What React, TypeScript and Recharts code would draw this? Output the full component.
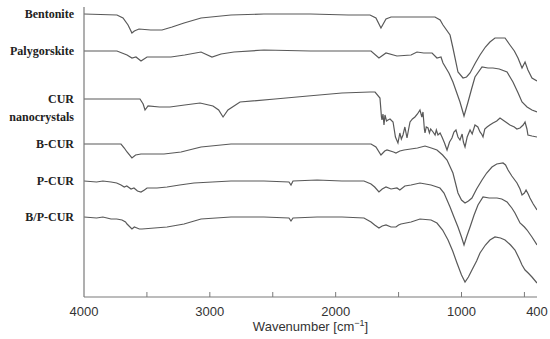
import React from 'react';
import { LineChart, Line, XAxis, YAxis, Label } from 'recharts';

// FTIR spectra: [wavenumber (cm^-1), transmittance (a.u., offset-stacked)]
const bentonite: [number, number][] = [
  [4000, 283], [3738, 282], [3690, 279], [3650, 272], [3619, 264], [3600, 266], [3563, 268], [3470, 267], [3380, 267],
  [3300, 270], [3205, 274], [3070, 279], [2832, 282], [2570, 283], [2200, 283], [1900, 282], [1727, 282],
  [1680, 279], [1640, 269], [1600, 278], [1560, 280], [1489, 280], [1300, 280], [1211, 280], [1170, 277],
  [1147, 272], [1091, 262], [1068, 249], [1028, 225], [988, 219], [960, 220], [932, 224], [890, 234],
  [853, 242], [810, 250], [774, 255], [734, 259], [690, 259], [654, 259], [615, 252], [580, 246],
  [551, 239], [519, 229], [495, 235], [472, 227], [440, 219], [400, 216],
];

const palygorskite: [number, number][] = [
  [4000, 246], [3738, 246], [3658, 242], [3619, 239], [3587, 240], [3547, 236], [3499, 240], [3400, 240],
  [3309, 240], [3200, 242], [3070, 245], [2983, 240], [2911, 243], [2808, 245], [2570, 247], [2200, 246],
  [1900, 246], [1719, 246], [1656, 239], [1600, 244], [1513, 241], [1401, 242], [1354, 245], [1300, 244],
  [1234, 244], [1195, 239], [1163, 240], [1147, 234], [1100, 224], [1068, 215], [1012, 195], [980, 181],
  [948, 195], [920, 208], [893, 220], [837, 230], [790, 229], [750, 229], [700, 228], [638, 225],
  [591, 215], [550, 204], [519, 195], [479, 190], [440, 187], [400, 185],
];

const curNanocrystals: [number, number][] = [
  [4000, 198], [3700, 198], [3555, 198], [3530, 193], [3515, 187], [3491, 191], [3400, 190], [3317, 190],
  [3200, 192], [3078, 194], [2975, 191], [2930, 187], [2895, 180], [2856, 187], [2760, 195], [2482, 198],
  [2220, 201], [1950, 204], [1727, 205], [1687, 205], [1648, 199], [1636, 180], [1632, 177], [1624, 183],
  [1616, 172], [1608, 182], [1596, 176], [1584, 177], [1568, 178], [1544, 175], [1525, 160], [1505, 154],
  [1490, 164], [1478, 158], [1465, 162], [1450, 170], [1433, 159], [1420, 168], [1409, 175], [1390, 178],
  [1370, 180], [1350, 183], [1330, 187], [1315, 180], [1306, 185], [1295, 168], [1290, 164], [1280, 170],
  [1266, 169], [1255, 164], [1245, 168], [1226, 165], [1210, 162], [1200, 167], [1187, 162], [1170, 164],
  [1155, 160], [1135, 154], [1115, 147], [1095, 155], [1076, 159], [1060, 165], [1044, 167], [1028, 160],
  [1012, 157], [995, 163], [985, 155], [972, 150], [955, 160], [932, 167], [915, 163], [893, 172],
  [870, 170], [853, 165], [840, 163], [829, 160], [815, 168], [797, 170], [775, 172], [750, 174],
  [720, 176], [694, 179], [660, 176], [615, 172], [580, 170], [560, 168], [535, 169], [510, 172],
  [495, 175], [480, 168], [472, 162], [440, 161], [400, 160],
];

const bCur: [number, number][] = [
  [4000, 153], [3706, 153], [3680, 149], [3658, 145], [3619, 139], [3590, 142], [3547, 143], [3450, 143],
  [3364, 143], [3229, 145], [3070, 150], [2832, 153], [2570, 153], [2200, 153], [1900, 153], [1719, 153],
  [1680, 150], [1640, 142], [1610, 146], [1592, 147], [1540, 145], [1521, 144], [1490, 146], [1457, 147],
  [1350, 149], [1290, 151], [1240, 149], [1195, 147], [1150, 142], [1115, 137], [1068, 124], [1028, 104],
  [1000, 97], [972, 94], [945, 96], [917, 99], [880, 108], [837, 117], [800, 124], [758, 130],
  [720, 133], [670, 134], [650, 132], [630, 127], [600, 121], [559, 114], [535, 108], [519, 102],
  [500, 104], [487, 107], [470, 103], [456, 99], [430, 93], [400, 87],
];

const pCur: [number, number][] = [
  [4000, 116], [3900, 115], [3850, 116], [3785, 115], [3740, 114], [3706, 112], [3680, 110], [3660, 111],
  [3626, 108], [3603, 109], [3575, 106], [3547, 105], [3520, 107], [3499, 109], [3420, 109], [3340, 110],
  [3240, 112], [3126, 114], [2980, 115], [2832, 116], [2570, 116], [2371, 115], [2355, 112], [2339, 116],
  [2148, 117], [1950, 116], [1775, 116], [1719, 113], [1690, 110], [1656, 105], [1630, 108], [1600, 110],
  [1560, 108], [1513, 109], [1490, 107], [1450, 111], [1401, 112], [1330, 114], [1242, 112], [1171, 109],
  [1139, 104], [1091, 90], [1060, 80], [1028, 70], [1000, 60], [980, 52], [960, 60], [932, 70],
  [900, 82], [869, 92], [829, 100], [780, 99], [718, 99], [680, 98], [638, 95], [600, 89],
  [575, 84], [535, 74], [500, 70], [479, 67], [440, 60], [400, 52],
];

const bpCur: [number, number][] = [
  [4000, 80], [3900, 79], [3850, 80], [3785, 78], [3740, 78], [3698, 77], [3670, 75], [3658, 73],
  [3619, 68], [3600, 70], [3579, 69], [3560, 68], [3539, 68], [3440, 69], [3340, 70], [3205, 73],
  [3070, 78], [2832, 80], [2570, 80], [2371, 79], [2355, 76], [2339, 79], [2148, 80], [1950, 80],
  [1775, 79], [1719, 75], [1690, 72], [1656, 69], [1630, 71], [1600, 72], [1560, 70], [1521, 70],
  [1500, 72], [1481, 73], [1401, 75], [1330, 78], [1242, 77], [1195, 74], [1150, 67], [1107, 57],
  [1070, 46], [1036, 34], [1000, 22], [972, 15], [945, 20], [917, 27], [880, 36], [853, 44],
  [810, 52], [774, 57], [734, 60], [690, 59], [654, 57], [610, 52], [575, 47], [540, 38],
  [519, 32], [495, 27], [470, 24], [440, 20], [400, 14],
];

const seriesNames: string[][] = [
  ['Bentonite'],
  ['Palygorskite'],
  ['CUR', 'nanocrystals'],
  ['B-CUR'],
  ['P-CUR'],
  ['B/P-CUR'],
];

const allSeries = [bentonite, palygorskite, curNanocrystals, bCur, pCur, bpCur];

const wavenumberTicks = [4000, 3500, 3000, 2500, 2000, 1500, 1000, 500, 400];
const labeledTicks = [4000, 3000, 2000, 1000, 400];

const toPts = (arr: [number, number][]) => arr.map(([wn, t]) => ({ wn, t }));

const labelTickValues = allSeries.map((s) => s[0][1]);
const labelByValue: Record<number, string[]> = {};
labelTickValues.forEach((v, i) => {
  labelByValue[v] = seriesNames[i];
});

const AXIS_COLOR = '#7a7a7a';
const LINE_COLOR = '#595959';

const XTick = (props: any) => {
  const { x, y, payload } = props;
  const v = payload.value;
  return (
    <g>
      {v !== 400 && v !== 4000 && (
        <line x1={x} y1={y} x2={x} y2={y - 5} stroke={AXIS_COLOR} strokeWidth={1} />
      )}
      {labeledTicks.includes(v) && (
        <text
          x={x}
          y={y + 19}
          textAnchor="middle"
          fontSize={13}
          fill="#333"
          fontFamily="'Liberation Sans', Arial, sans-serif"
        >
          {v}
        </text>
      )}
    </g>
  );
};

const YTick = (props: any) => {
  const { x, y, payload } = props;
  const lines = labelByValue[payload.value] || [];
  return (
    <text
      x={x}
      y={y}
      textAnchor="end"
      fontSize={12}
      fontWeight="bold"
      fill="#222"
      fontFamily="'Liberation Serif', 'Times New Roman', serif"
    >
      {lines.map((l, i) => (
        <tspan key={i} x={x} dy={i === 0 ? '0.35em' : '1.45em'}>
          {l}
        </tspan>
      ))}
    </text>
  );
};

const XLabel = (props: any) => {
  const vb = props.viewBox || {};
  const cx = vb.x + vb.width / 2;
  const y = vb.y + 34;
  return (
    <text
      x={cx}
      y={y}
      textAnchor="middle"
      fontSize={13}
      fill="#333"
      fontFamily="'Liberation Sans', Arial, sans-serif"
    >
      <tspan>Wavenumber [cm</tspan>
      <tspan dy={-5} fontSize={9}>−1</tspan>
      <tspan dy={5}>]</tspan>
    </text>
  );
};

export default function App() {
  return (
    <div style={{ position: 'absolute', left: 0, top: 0, width: 550, height: 339, background: '#fff' }}>
      <LineChart width={550} height={339} margin={{ top: 7, right: 13, bottom: 0, left: 0 }}>
        <XAxis
          xAxisId="bottom"
          dataKey="wn"
          type="number"
          domain={[400, 4000]}
          reversed
          allowDataOverflow
          ticks={wavenumberTicks}
          interval={0}
          tick={<XTick />}
          tickLine={false}
          tickSize={0}
          tickMargin={0}
          height={42}
          axisLine={{ stroke: AXIS_COLOR, strokeWidth: 1.2 }}
        >
          <Label content={<XLabel />} />
        </XAxis>
        <XAxis
          xAxisId="top"
          orientation="top"
          dataKey="wn"
          type="number"
          domain={[400, 4000]}
          reversed
          height={0}
          tick={false}
          tickLine={false}
          axisLine={{ stroke: AXIS_COLOR, strokeWidth: 1.2 }}
        />
        <YAxis
          yAxisId="left"
          type="number"
          domain={[0, 290]}
          allowDataOverflow
          ticks={labelTickValues}
          interval={0}
          width={84}
          tick={<YTick />}
          tickLine={false}
          tickSize={0}
          tickMargin={10}
          axisLine={{ stroke: AXIS_COLOR, strokeWidth: 1.2 }}
        />
        <YAxis
          yAxisId="right"
          orientation="right"
          type="number"
          domain={[0, 290]}
          width={0}
          tick={false}
          tickLine={false}
          axisLine={{ stroke: AXIS_COLOR, strokeWidth: 1.2 }}
        />
        {allSeries.map((s, i) => (
          <Line
            key={i}
            xAxisId="bottom"
            yAxisId="left"
            data={toPts(s)}
            dataKey="t"
            type="linear"
            stroke={LINE_COLOR}
            strokeWidth={1.2}
            dot={false}
            activeDot={false}
            isAnimationActive={false}
          />
        ))}
      </LineChart>
    </div>
  );
}
